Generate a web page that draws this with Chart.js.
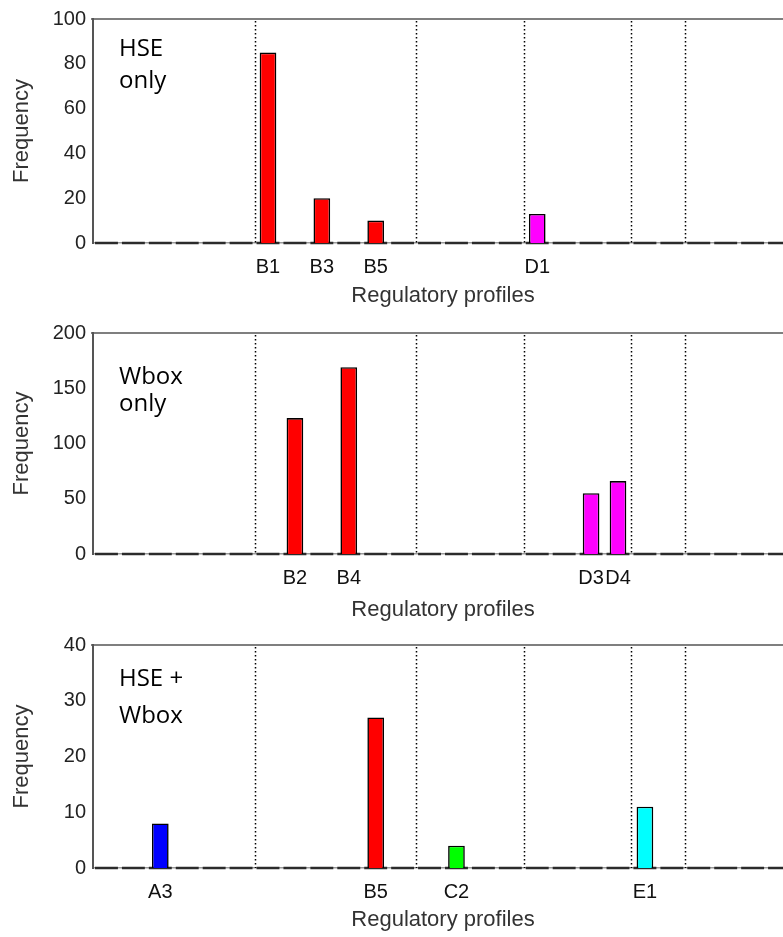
<!DOCTYPE html>
<html>
<head>
<meta charset="utf-8">
<title>Regulatory profiles</title>
<script src="https://cdn.jsdelivr.net/npm/chart.js@4.4.1/dist/chart.umd.min.js"></script>
<style>
  html, body { margin: 0; padding: 0; background: #fff; overflow: hidden; }
  .panel { position: absolute; left: 0; width: 793px; height: 312px; }
</style>
</head>
<body>
<div class="panel" style="top:0px"><canvas id="hseChart" width="793" height="312"></canvas></div>
<div class="panel" style="top:314px"><canvas id="wboxChart" width="793" height="312"></canvas></div>
<div class="panel" style="top:626px"><canvas id="bothChart" width="793" height="312"></canvas></div>
<script>
// profile categories, grouped by letter (A..F)
var categories = ['A1','A2','A3','A4','A5','A6',
                  'B1','B2','B3','B4','B5','B6',
                  'C1','C2','C3','C4',
                  'D1','D2','D3','D4',
                  'E1','E2',
                  'F1','F2','F3','F4'];

// frequencies per profile
var hseOnly  = [0,0,0,0,0,0,  85,0,20,0,10,0,  0,0,0,0,  13,0,0,0,  0,0,   0,0,0,0];
var wboxOnly = [0,0,0,0,0,0,  0,123,0,169,0,0, 0,0,0,0,  0,0,55,66, 0,0,   0,0,0,0];
var hseWbox  = [0,0,8,0,0,0,  0,0,0,0,27,0,    0,4,0,0,  0,0,0,0,   11,0,  0,0,0,0];

var yMax  = [100, 200, 40];
var yStep = [20, 50, 10];
var panelText = [['HSE', 'only'], ['Wbox', 'only'], ['HSE +', 'Wbox']];

// styling
var groupColor = { A: '#0000ff', B: '#ff0000', C: '#00ff00', D: '#ff00ff', E: '#00ffff', F: '#ffff00' };
var textBase = [[37, 69], [51, 78], [41, 78]];   // baselines below the plot top
var plotBottom = [243, 240, 242];
var titlePad = [3.2, 3.2, 5.2];
var FONT = 'Liberation Sans';

// frame, group dividers, dashed baseline and the panel caption
var panelDecor = {
  id: 'panelDecor',
  beforeDatasetsDraw: function(chart) {
    var ctx = chart.ctx, area = chart.chartArea;
    var xs = chart.scales.x, ys = chart.scales.y;
    var step = xs.getPixelForValue(1) - xs.getPixelForValue(0);
    var y0 = ys.getPixelForValue(0);
    ctx.save();

    // top frame line
    ctx.strokeStyle = '#555';
    ctx.lineWidth = 1.5;
    ctx.beginPath();
    ctx.moveTo(area.left - 2, area.top);
    ctx.lineTo(area.right, area.top);
    ctx.stroke();

    // dotted lines where the profile letter changes
    ctx.strokeStyle = '#000';
    ctx.lineWidth = 1.5;
    ctx.setLineDash([1.5, 2.5]);
    for (var i = 1; i < categories.length; i++) {
      if (categories[i][0] != categories[i - 1][0]) {
        var px = Math.round(xs.getPixelForValue(i) - step / 2) + 0.5;
        ctx.beginPath();
        ctx.moveTo(px, area.top + 2);
        ctx.lineTo(px, y0);
        ctx.stroke();
      }
    }
    ctx.setLineDash([]);

    // baseline: one dark dash per category
    ctx.strokeStyle = '#2b2b2b';
    ctx.lineWidth = 2.5;
    for (var j = 0; j < categories.length; j++) {
      var cx = xs.getPixelForValue(j);
      ctx.beginPath();
      ctx.moveTo(cx - step / 2 + 2, y0);
      ctx.lineTo(cx + step / 2 - 2, y0);
      ctx.stroke();
    }
    ctx.restore();
  },
  afterDraw: function(chart, args, opts) {
    var ctx = chart.ctx, area = chart.chartArea;
    ctx.save();
    ctx.font = '24px "Open Sans"';
    ctx.fillStyle = '#000';
    ctx.textBaseline = 'alphabetic';
    for (var i = 0; i < opts.lines.length; i++) {
      ctx.fillText(opts.lines[i], area.left + 26, area.top + opts.baselines[i]);
    }
    ctx.restore();
  }
};

function makePanel(canvasId, values, idx) {
  var H = 312;
  return new Chart(document.getElementById(canvasId), {
    type: 'bar',
    data: {
      labels: categories,
      datasets: [{
        data: values.map(function(v) { return v > 0 ? v : null; }),
        backgroundColor: categories.map(function(c) { return groupColor[c[0]]; }),
        borderColor: '#000',
        borderWidth: 1.6,
        categoryPercentage: 1.0,
        barPercentage: 0.62
      }]
    },
    options: {
      responsive: false,
      animation: false,
      layout: { padding: { top: 16, left: 0, right: 0, bottom: 0 } },
      plugins: {
        legend: { display: false },
        tooltip: { enabled: false },
        panelDecor: { lines: panelText[idx], baselines: textBase[idx] }
      },
      scales: {
        x: {
          grid: { display: false, drawTicks: false },
          border: { display: true, color: '#9a9a9a', width: 1.5 },
          ticks: {
            autoSkip: false, maxRotation: 0, padding: 12,
            color: '#111', font: { family: FONT, size: 20 },
            callback: function(v, i) { return values[i] > 0 ? categories[i] : ''; }
          },
          title: {
            display: true, text: 'Regulatory profiles', color: '#333',
            font: { family: FONT, size: 22 },
            padding: { top: 0, bottom: titlePad[idx] }
          },
          afterFit: function(s) { s.height = H - plotBottom[idx]; }
        },
        y: {
          min: 0, max: yMax[idx],
          grid: { display: false, drawTicks: false },
          border: { display: true, color: '#555', width: 2 },
          ticks: {
            stepSize: yStep[idx], padding: 7,
            color: '#222', font: { family: FONT, size: 20 }
          },
          title: {
            display: true, text: 'Frequency', color: '#333',
            font: { family: FONT, size: 22 },
            padding: { top: 9, bottom: 0 }
          },
          afterFit: function(s) { s.width = 93; }
        }
      }
    },
    plugins: [panelDecor]
  });
}

makePanel('hseChart', hseOnly, 0);
makePanel('wboxChart', wboxOnly, 1);
makePanel('bothChart', hseWbox, 2);
</script>
</body>
</html>
